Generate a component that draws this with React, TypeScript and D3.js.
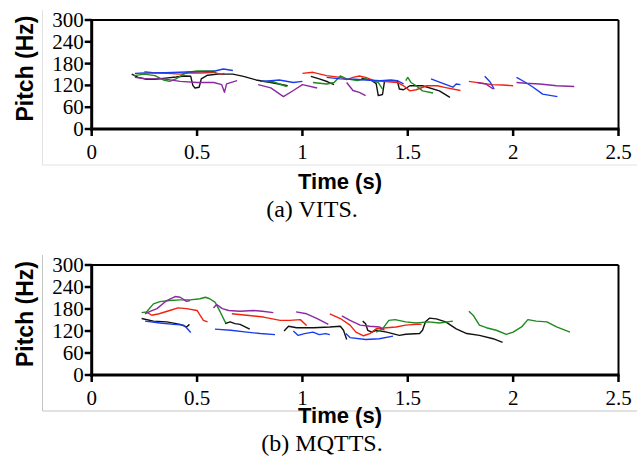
import React from "react";
import * as d3 from "d3";

type Pt = [number, number];
type Seg = Pt[];

const xTicks = [0, 0.5, 1, 1.5, 2, 2.5];
const xTickLabels = ["0", "0.5", "1", "1.5", "2", "2.5"];
const yTicks = [0, 60, 120, 180, 240, 300];

// (a) VITS
const vitsBlack: Seg[] = [
  [[0.19,151],[0.22,142],[0.26,137],[0.30,137],[0.35,140],[0.40,143],[0.44,146],[0.47,145],[0.48,120],[0.49,113],[0.51,115],[0.52,138],[0.55,148],[0.60,151],[0.67,151],[0.72,145],[0.78,135],[0.85,128],[0.93,119]],
  [[1.04,145],[1.08,138],[1.12,130],[1.15,122]],
  [[1.28,140],[1.31,136],[1.33,133],[1.35,125],[1.36,92],[1.38,95],[1.39,133],[1.45,133],[1.46,110],[1.48,108],[1.51,119],[1.57,119],[1.65,105],[1.70,87]],
];
const vitsRed: Seg[] = [
  [[0.25,158],[0.29,155],[0.36,153],[0.42,151],[0.47,155],[0.52,154],[0.58,156],[0.61,151],[0.63,153]],
  [[1.00,153],[1.05,156],[1.115,147],[1.18,142],[1.21,136],[1.24,142],[1.27,146],[1.30,142],[1.34,133],[1.38,131],[1.45,128],[1.48,119],[1.51,105],[1.54,108],[1.59,119],[1.64,119],[1.68,114],[1.75,106]],
  [[1.79,131],[1.84,127],[1.90,122],[1.95,121],[2.00,119]],
];
const vitsGreen: Seg[] = [
  [[0.20,147],[0.25,151],[0.30,147],[0.34,135],[0.37,131],[0.40,138],[0.45,156],[0.50,160],[0.58,160],[0.59,153]],
  [[0.80,131],[0.86,130],[0.925,117]],
  [[1.05,128],[1.115,124],[1.15,128],[1.18,146],[1.21,138],[1.26,133],[1.30,138],[1.33,133],[1.36,128],[1.38,110]],
  [[1.49,133],[1.50,142],[1.515,128],[1.54,119],[1.57,105],[1.62,99]],
];
const vitsBlue: Seg[] = [
  [[0.205,153],[0.25,154],[0.35,155],[0.45,157],[0.52,158],[0.58,159],[0.625,165],[0.67,161]],
  [[0.80,131],[0.85,133],[0.89,135],[0.957,128],[1.00,131]],
  [[1.115,142],[1.18,138],[1.25,137],[1.30,135],[1.37,133],[1.42,135],[1.45,133],[1.48,124]],
  [[1.61,138],[1.66,127],[1.714,115],[1.73,124],[1.75,122]],
  [[1.865,145],[1.89,130],[1.91,110]],
  [[2.016,142],[2.06,128],[2.095,115],[2.14,96],[2.21,89]],
];
const vitsPurple: Seg[] = [
  [[0.205,142],[0.26,138],[0.34,138],[0.42,131],[0.50,128],[0.58,128],[0.617,122],[0.63,101],[0.64,124],[0.69,133]],
  [[0.79,122],[0.85,113],[0.91,89],[0.957,106],[1.00,122],[1.07,113]],
  [[1.21,128],[1.24,106],[1.27,101],[1.30,92]],
  [[1.83,128],[1.87,124],[1.905,110]],
  [[2.016,128],[2.06,126],[2.127,124],[2.206,119],[2.29,117]],
];

// (b) MQTTS
const mqGreen: Seg[] = [
  [[0.237,170],[0.26,172],[0.293,194],[0.324,200],[0.37,203],[0.42,205],[0.467,205],[0.514,208],[0.54,212],[0.56,208],[0.585,199],[0.61,172],[0.633,145],[0.64,142]],
  [[1.35,117],[1.38,126],[1.41,149],[1.44,151],[1.49,145],[1.54,142],[1.60,145],[1.65,142],[1.714,147]],
  [[1.79,174],[1.81,163],[1.84,136],[1.873,129],[1.92,122],[1.968,111],[2.0,117],[2.04,131],[2.07,151],[2.11,147],[2.16,145],[2.206,131],[2.27,117]],
];
const mqPurple: Seg[] = [
  [[0.253,167],[0.28,174],[0.31,181],[0.356,203],[0.396,214],[0.42,212],[0.45,201],[0.467,203]],
  [[0.578,183],[0.593,192],[0.62,181],[0.65,176],[0.704,174],[0.767,176],[0.81,174],[0.862,170]],
  [[0.97,172],[1.02,167],[1.07,154],[1.123,138]],
  [[1.187,161],[1.226,149],[1.274,136],[1.32,133],[1.365,131],[1.39,122]],
];
const mqRed: Seg[] = [
  [[0.26,172],[0.285,163],[0.32,167],[0.37,176],[0.41,183],[0.45,181],[0.50,176],[0.514,163],[0.53,149],[0.55,145]],
  [[0.665,167],[0.736,163],[0.815,158],[0.894,149],[0.94,149],[0.99,151],[1.02,135]],
  [[1.13,167],[1.18,154],[1.226,136],[1.254,117],[1.29,107],[1.32,113],[1.35,126],[1.40,129],[1.444,131],[1.49,136],[1.54,138],[1.565,138]],
];
const mqBlack: Seg[] = [
  [[0.237,154],[0.293,147],[0.356,145],[0.42,138],[0.45,131],[0.464,138]],
  [[0.633,140],[0.657,145],[0.68,140],[0.704,138],[0.75,125]],
  [[0.913,120],[0.934,133],[0.973,129],[1.052,129],[1.13,131],[1.18,133],[1.195,122],[1.21,97]],
  [[1.286,147],[1.30,140],[1.31,122],[1.33,117],[1.35,122],[1.40,117],[1.46,108],[1.49,111],[1.556,113],[1.57,122],[1.584,145],[1.603,155],[1.635,153],[1.68,145],[1.73,126],[1.78,113],[1.84,108],[1.905,99],[1.95,89]],
];
const mqBlue: Seg[] = [
  [[0.253,147],[0.324,142],[0.388,138],[0.435,136],[0.45,129],[0.47,116]],
  [[0.585,125],[0.66,122],[0.736,117],[0.8,113],[0.87,110]],
  [[0.957,120],[0.98,108],[1.01,113],[1.05,117],[1.08,110],[1.11,113],[1.13,110]],
  [[1.206,113],[1.226,102],[1.30,97],[1.365,99],[1.43,106]],
];

const COLORS = {
  black: "#111111",
  red: "#f2220f",
  green: "#1e8a1e",
  blue: "#1a3cf0",
  purple: "#8a2aa0",
};

const SERIF = "'Liberation Serif', 'Times New Roman', serif";
const SANS = "'Liberation Sans', Arial, sans-serif";

interface PanelProps {
  top: number;
  bottom: number;
  series: { segs: Seg[]; color: string }[];
  caption: string;
  captionX: number;
  borderTop: number;
  borderBottom: number;
  borderColor: string;
  titleOffset: number;
  captionOffset: number;
}

function Panel(p: PanelProps) {
  const x = d3.scaleLinear().domain([0, 2.5]).range([91.7, 618.5]);
  const y = d3.scaleLinear().domain([0, 300]).range([p.bottom, p.top]);
  const line = d3
    .line<Pt>()
    .x((d) => x(d[0]))
    .y((d) => y(d[1]));
  const x0 = x(0);
  const x1 = x(2.5);
  const y0 = y(0);
  const y1 = y(300);
  return (
    <g>
      <line x1={42.5} x2={42.5} y1={p.borderTop} y2={p.borderBottom} stroke={p.borderColor} strokeWidth={1} />
      <line x1={42.5} x2={637} y1={p.borderBottom} y2={p.borderBottom} stroke={p.borderColor} strokeWidth={1} />
      {p.series.map((s, i) =>
        s.segs.map((seg, j) => (
          <path key={`${i}-${j}`} d={line(seg) || ""} fill="none" stroke={s.color} strokeWidth={1.4} strokeLinejoin="round" />
        ))
      )}
      {/* frame */}
      <line x1={x0} x2={x1} y1={y1} y2={y1} stroke="#000" strokeWidth={2} />
      <line x1={x1} x2={x1} y1={y1} y2={y0} stroke="#000" strokeWidth={2} />
      <line x1={x0} x2={x0} y1={y1 - 1} y2={y0 + 1.5} stroke="#000" strokeWidth={3} />
      <line x1={x0 - 1.5} x2={x1 + 1} y1={y0} y2={y0} stroke="#000" strokeWidth={3} />
      {yTicks.map((t) => (
        <g key={`y${t}`}>
          <line x1={x0 - 7} x2={x0} y1={y(t)} y2={y(t)} stroke="#000" strokeWidth={2.5} />
          <text x={x0 - 8} y={y(t)} dy="0.33em" textAnchor="end" fontFamily={SERIF} fontSize={21} fill="#000">
            {t}
          </text>
        </g>
      ))}
      {xTicks.map((t, i) => (
        <g key={`x${t}`}>
          <line x1={x(t)} x2={x(t)} y1={y0} y2={y0 + 7} stroke="#000" strokeWidth={2.5} />
          <text x={x(t)} y={y0 + 30} textAnchor="middle" fontFamily={SERIF} fontSize={21} fill="#000">
            {xTickLabels[i]}
          </text>
        </g>
      ))}
      <text x={340} y={y0 + p.titleOffset} textAnchor="middle" fontFamily={SANS} fontWeight="bold" fontSize={22} fill="#000">
        Time (s)
      </text>
      <text
        transform={`translate(33, ${(y0 + y1) / 2 - 6}) rotate(-90)`}
        textAnchor="middle"
        fontFamily={SANS}
        fontWeight="bold"
        fontSize={23}
        fill="#000"
      >
        Pitch (Hz)
      </text>
      <text x={p.captionX} y={y0 + p.captionOffset} textAnchor="middle" fontFamily={SERIF} fontSize={24} fill="#000">
        {p.caption}
      </text>
    </g>
  );
}

export default function App() {
  const top = [
    { segs: vitsBlack, color: COLORS.black },
    { segs: vitsRed, color: COLORS.red },
    { segs: vitsGreen, color: COLORS.green },
    { segs: vitsBlue, color: COLORS.blue },
    { segs: vitsPurple, color: COLORS.purple },
  ];
  const bottom = [
    { segs: mqBlack, color: COLORS.black },
    { segs: mqRed, color: COLORS.red },
    { segs: mqGreen, color: COLORS.green },
    { segs: mqBlue, color: COLORS.blue },
    { segs: mqPurple, color: COLORS.purple },
  ];
  return (
    <svg
      width={644}
      height={468}
      viewBox="0 0 644 468"
      style={{ position: "absolute", left: 0, top: 0, background: "#fff" }}
    >
      <rect x={0} y={0} width={644} height={468} fill="#fff" />
      <Panel
        top={20}
        bottom={129}
        series={top}
        caption="(a) VITS."
        captionX={312}
        borderTop={10}
        borderBottom={165}
        borderColor="#e2e2e2"
        titleOffset={60}
        captionOffset={88}
      />
      <Panel
        top={265}
        bottom={375}
        series={bottom}
        caption="(b) MQTTS."
        captionX={322}
        borderTop={255}
        borderBottom={411}
        borderColor="#c4c4c4"
        titleOffset={48}
        captionOffset={76}
      />
    </svg>
  );
}
